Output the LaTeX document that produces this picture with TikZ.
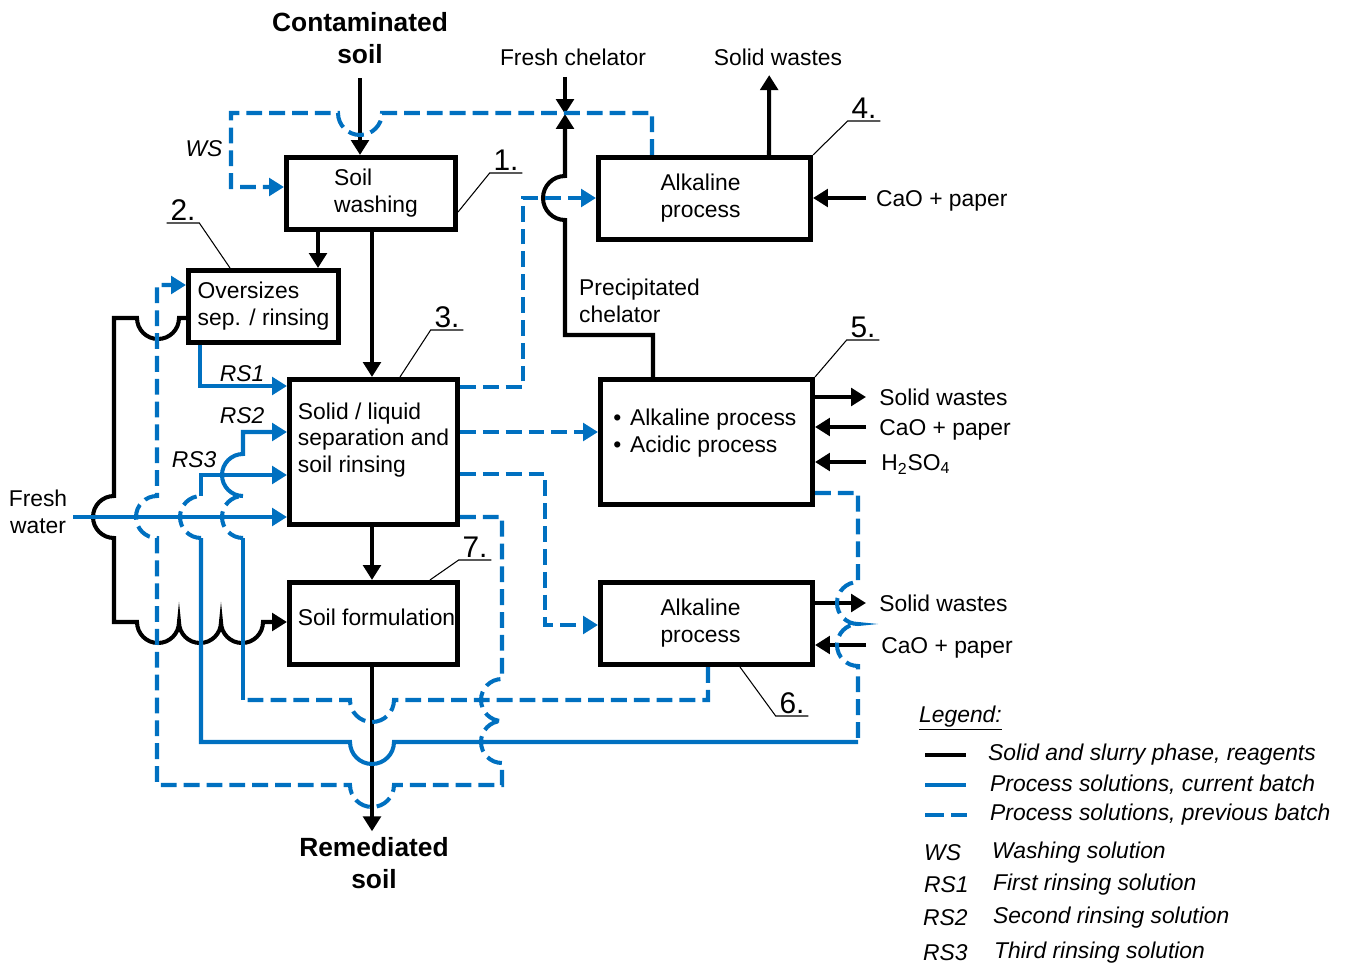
\documentclass[tikz,border=0pt]{standalone}
\usepackage{fontspec}
\setmainfont{Liberation Sans}
\usetikzlibrary{arrows.meta, calc}
\definecolor{procblue}{RGB}{0,112,192}
\tikzset{
  box/.style={draw, line width=2.9pt, inner sep=0pt},
  blk/.style={line width=2.3pt},
  arr/.style={-{Triangle[length=8.5pt,width=10pt]}},
  flow/.style={blk, arr},
  cur/.style={procblue, line width=2.3pt},
  prev/.style={procblue, line width=2.3pt, dash pattern=on 9pt off 4pt},
  lead/.style={line width=0.6pt},
  num/.style={font=\fontsize{17}{17}\selectfont, inner xsep=2pt, inner ysep=1pt, anchor=south},
  lab/.style={font=\fontsize{13}{15.3}\selectfont\itshape},
  headtxt/.style={font=\fontsize{15}{17.8}\selectfont\bfseries, align=center},
  rside/.style={anchor=west, inner xsep=7.4pt, text height=9.3pt, text depth=0pt},
}
\begin{document}
\begin{tikzpicture}[x=0.02cm, y=-0.02cm, every node/.style={font=\fontsize{13}{15.3}\selectfont}]
    \useasboundingbox (0,0) rectangle (1346,966);

    % Blokai
    \node[box, minimum width=3.38cm, minimum height=1.44cm] (wash) at (371,193.5) {};
    \node[box, minimum width=3.0cm, minimum height=1.44cm] (sep) at (263.5,306.5) {};
    \node[box, minimum width=3.36cm, minimum height=2.9cm] (slsep) at (373.5,452) {};
    \node[box, minimum width=3.36cm, minimum height=1.64cm] (form) at (373.5,623.5) {};
    \node[box, minimum width=4.24cm, minimum height=1.64cm] (alk1) at (704.5,198.5) {};
    \node[box, minimum width=4.24cm, minimum height=2.5cm] (alkacid) at (706.5,442) {};
    \node[box, minimum width=4.24cm, minimum height=1.64cm] (alk2) at (706.5,623.5) {};

    % Bloku tekstai
    \node[align=left] (twash) at ($(wash)+(5,0)$) {Soil\\washing};
    \node[align=left] (tsep) at (sep) {Oversizes\\sep. / rinsing};
    \node[align=left] (tslsep) at ($(slsep)+(0,-12)$) {Solid / liquid\\separation and\\soil rinsing};
    \node (tform) at ($(form)+(3,-6)$) {Soil formulation};
    \node[align=center] (talk1) at ($(alk1)+(-4,0)$) {Alkaline\\process};
    \node[align=left, anchor=west, inner sep=0pt] (talkacid) at (613,433.5)
        {\textbullet\hspace{5pt}Alkaline process\\\textbullet\hspace{5pt}Acidic process};
    \node[align=center] (talk2) at ($(alk2)+(-6,0)$) {Alkaline\\process};

    % Iejimai ir isejimai
    \node[headtxt] (cont) at (360,38) {Contaminated\\soil};
    \node[headtxt, font=\fontsize{15}{18}\selectfont\bfseries] (rem) at (374,863) {Remediated\\soil};
    \node (chel) at (573,57) {Fresh chelator};
    \node (sw1) at (778,57) {Solid wastes};
    \node[align=center] (water) at (38,512) {Fresh\\water};
    \node[align=left, anchor=west] (precip) at (573,301) {Precipitated\\chelator};
    \node[rside, inner xsep=5.5pt] (cao1) at (866,198) {CaO + paper};
    \node[rside] (sw2) at (866,397) {Solid wastes};
    \node[rside] (cao2) at (866,427) {CaO + paper};
    \node[rside, inner xsep=8.5pt] (acid) at (866,462) {H\textsubscript{2}SO\textsubscript{4}};
    \node[rside] (sw3) at (866,603) {Solid wastes};
    \node[rside, inner xsep=8.5pt] (cao3) at (866,645) {CaO + paper};
    \coordinate (meet) at (565,114);

    % Kietoji faze (juodos linijos)
    \draw[flow] ([yshift=-5pt]cont.south) -- (cont.south |- wash.north);
    \draw[flow] (wash.south -| 318,0) -- (sep.north -| 318,0);
    \draw[flow] (wash.south -| 372,0) -- (slsep.north -| 372,0);
    \draw[flow] (slsep.south -| 372,0) -- (form.north -| 372,0);
    \draw[flow] (form.south -| 372,0) -- (rem.north -| 372,0);
    \draw[flow] (sep.west |- 0,318) -- (179,318) arc (0:180:21) -- (114,318) -- (114,496)
        arc (270:90:21) -- (114,622) -- (137,622) arc (180:0:21) arc (180:0:21) arc (180:0:21)
        -- (form.west |- 0,622);
    \draw[flow] ([yshift=-3pt]chel.south -| meet) -- (meet);
    \draw[flow] (alkacid.north -| 653,0) -- (653,335) -- (565,335) -- (565,220)
        arc (90:270:22) -- (meet);
    \draw[flow] (alk1.north -| 769,0) -- ([xshift=-5pt,yshift=-2pt]sw1.south);
    \draw[flow] (cao1.west) -- (alk1.east |- cao1.west);
    \draw[flow] (alkacid.east |- sw2) -- (sw2.west);
    \draw[flow] (cao2.west) -- (alkacid.east |- cao2);
    \draw[flow] (acid.west) -- (alkacid.east |- acid);
    \draw[flow] (alk2.east |- sw3) -- (sw3.west);
    \draw[flow] (cao3.west) -- (alk2.east |- cao3);

    % Dabartines partijos tirpalai
    \draw[cur, arr] (water.east |- 0,517) -- (slsep.west |- 0,517);
    \draw[cur, arr] (sep.south -| 200,0) -- (200,386) -- (slsep.west |- 0,386);
    \node[lab] (rs1) at (242,374) {RS1};
    \node[lab] (rs2) at (242,416) {RS2};
    \node[lab] (rs3) at (194,460) {RS3};
    \node[lab] (ws) at (204,149) {WS};

    % Ankstesnes partijos tirpalai (punktyrines)
    \draw[prev, arr] (alk1.north -| 652,0) -- (652,113) -- (382,113) arc (0:180:22) -- (231,113)
        -- (231,187) -- (wash.west |- 0,187);
    \draw[prev, arr] (slsep.east |- 0,387) -- (523,387) -- (523,198) -- (alk1.west |- 0,198);
    \draw[prev, arr] (slsep.east |- 0,432) -- (alkacid.west |- 0,432);
    \draw[prev, arr] (slsep.east |- 0,474) -- (545,474) -- (545,625) -- (alk2.west |- 0,625);
    \draw[prev, arr] (slsep.east |- 0,517) -- (502,517) -- (502,679) arc (270:90:21) arc (270:90:21)
        -- (502,785) -- (394,785) arc (0:180:22) -- (157,785) -- (157,538) arc (90:270:21)
        -- (157,285) -- (sep.west |- 0,285);

    % RS3
    \coordinate (c3) at (858,742);
    \draw[prev] (alkacid.east |- 0,493) -- (858,493) -- (858,582) arc (270:90:21) arc (270:90:21) -- (c3);
    \draw[cur] (c3) -- (394,742) arc (0:180:22) -- (201,742) -- (201,538);
    \draw[prev] (201,538) arc (90:270:21);
    \draw[cur, arr] (201,496) -- (201,475) -- (slsep.west |- 0,475);

    % RS2
    \coordinate (c2) at (243,700);
    \draw[prev] (alk2.south -| 708,0) -- (708,700) -- (394,700) arc (0:180:22) -- (c2);
    \draw[cur] (c2) -- (243,538);
    \draw[prev] (243,538) arc (90:270:21);
    \draw[cur, arr] (243,496) arc (90:270:21) -- (243,432) -- (slsep.west |- 0,432);

    % Numeriai
    \node[num] (n1) at (506,173) {1.};
    \node[num] (n2) at (183,223) {2.};
    \node[num] (n3) at (447,330) {3.};
    \node[num] (n4) at (864,121) {4.};
    \node[num] (n5) at (863,340) {5.};
    \node[num] (n6) at (792,716) {6.};
    \node[num] (n7) at (475,560) {7.};
    \draw[lead] (wash.east |- 0,212) -- (n1.south west) -- (n1.south east);
    \draw[lead] (sep.north -| 230,0) -- (n2.south east) -- (n2.south west);
    \draw[lead] (slsep.north -| 400,0) -- (n3.south west) -- (n3.south east);
    \draw[lead] (alk1.north east) -- (n4.south west) -- (n4.south east);
    \draw[lead] (alkacid.north east) -- (n5.south west) -- (n5.south east);
    \draw[lead] (alk2.south -| 740,0) -- (n6.south west) -- (n6.south east);
    \draw[lead] (form.north -| 430,0) -- (n7.south west) -- (n7.south east);

    % Legenda
    \node[lab, anchor=west] (leg) at (913,718) {\underline{Legend:}};
    \draw[line width=2.6pt] (925,755) -- (966,755);
    \draw[cur, line width=2.6pt] (925,785) -- (966,785);
    \draw[prev, line width=2.6pt, dash pattern=on 11pt off 4pt] (925,815) -- (967,815);
    \node[lab, anchor=west] (l1) at (982,755) {Solid and slurry phase, reagents};
    \node[lab, anchor=west] (l2) at (984,785) {Process solutions, current batch};
    \node[lab, anchor=west] (l3) at (984,815) {Process solutions, previous batch};
    \node[lab, anchor=west] (a1) at (918,853) {WS};
    \node[lab, anchor=west] (d1) at (986,853) {Washing solution};
    \node[lab, anchor=west] (a2) at (918,885) {RS1};
    \node[lab, anchor=west] (d2) at (987,885) {First rinsing solution};
    \node[lab, anchor=west] (a3) at (917,918) {RS2};
    \node[lab, anchor=west] (d3) at (987,918) {Second rinsing solution};
    \node[lab, anchor=west] (a4) at (917,953) {RS3};
    \node[lab, anchor=west] (d4) at (988,953) {Third rinsing solution};
\end{tikzpicture}
\end{document}
